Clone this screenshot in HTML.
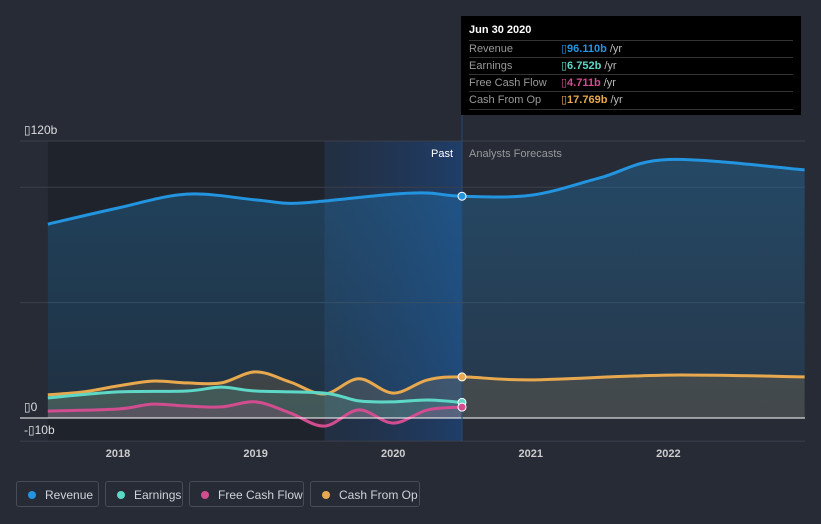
<!DOCTYPE html>
<html><head><meta charset="utf-8"><style>
body{margin:0;background:#262b36;font-family:"Liberation Sans","DejaVu Sans",sans-serif;}
#wrap{position:relative;width:821px;height:524px;overflow:hidden;background:#262b36}
.leg{position:absolute;top:481px;height:26px;border:1px solid #464c58;border-radius:3px;color:#d0d3d8;font-size:12px;line-height:26px;box-sizing:border-box;padding-left:28px}
.leg i{position:absolute;left:11px;top:9px;width:8px;height:8px;border-radius:50%}
#tip{position:absolute;left:461px;top:16px;width:340px;height:99px;background:#000;color:#fff;font-size:11px}
#tip .r{position:absolute;left:8px;width:324px;height:17px;border-top:1px solid #333;line-height:16px;color:#999}
#tip .r b{position:absolute;left:92px;font-weight:bold}
#tip .r span{color:#bbb;font-weight:normal}
</style></head><body>
<div id="wrap">
<svg id="svg" width="821" height="524" style="position:absolute;left:0;top:0"></svg>
<div id="tip">
<div style="position:absolute;left:8px;top:8px;font-weight:bold;font-size:11px">Jun 30 2020</div>
<div class="r" style="top:24px">Revenue<b style="color:#2394df">▯96.110b <span>/yr</span></b></div>
<div class="r" style="top:41px">Earnings<b style="color:#5ed8c6">▯6.752b <span>/yr</span></b></div>
<div class="r" style="top:58px">Free Cash Flow<b style="color:#d14d8f">▯4.711b <span>/yr</span></b></div>
<div class="r" style="top:75px;border-bottom:1px solid #333">Cash From Op<b style="color:#e8a94e">▯17.769b <span>/yr</span></b></div>
</div>
<div class="leg" style="left:16px;width:83px"><i style="background:#2394df"></i>Revenue</div>
<div class="leg" style="left:105px;width:78px"><i style="background:#5ed8c6"></i>Earnings</div>
<div class="leg" style="left:189px;width:115px"><i style="background:#d14d8f"></i>Free Cash Flow</div>
<div class="leg" style="left:310px;width:110px"><i style="background:#e8a94e"></i>Cash From Op</div>
</div>
<script>
const revYears=[2017.49,2018,2018.5,2019,2019.25,2019.5,2020,2020.25,2020.5,2021,2021.5,2022,2022.99];
const revVals=[84,91,97,94.5,93,94,97,97.5,96.1,96.5,104,112,107.5];
const cfoYears=[2017.49,2017.75,2018,2018.25,2018.5,2018.75,2019,2019.25,2019.5,2019.75,2020,2020.25,2020.5,2021,2022,2022.99];
const cfoVals=[10,11.3,13.9,16,15.2,15.2,20,15.6,10.4,17,10.8,16.5,17.8,16.5,18.6,17.8];
const earnYears=[2017.49,2018,2018.5,2018.75,2019,2019.5,2019.75,2020,2020.25,2020.5];
const earnVals=[8.7,11.3,11.7,13.4,11.7,10.8,7.4,7,7.8,6.75];
const fcfYears=[2017.49,2018,2018.25,2018.5,2018.75,2019,2019.25,2019.5,2019.75,2020,2020.25,2020.5];
const fcfVals=[3,3.9,6,5.2,4.8,7,2.2,-3.5,3.5,-2.2,3.5,4.7];
const xTicks=[2018,2019,2020,2021,2022];
const yTicks=[120,0,-10];
const yLabels=["▯120b","▯0","-▯10b"];
const X=y=>118+(y-2018)*137.6, Y=v=>418-v*2.308;
const NS="http://www.w3.org/2000/svg",svg=document.getElementById('svg');
function mk(t,a,name){const e=document.createElementNS(NS,t);for(const k in a)e.setAttribute(k,a[k]);


svg.appendChild(e);return e;}
svg.innerHTML='<defs><linearGradient id="pg" x1="0" x2="1"><stop offset="0" stop-color="#1a3a66" stop-opacity="0.25"/><stop offset="1" stop-color="#1a4a8a" stop-opacity="0.6"/></linearGradient><linearGradient id="rf" x1="0" y1="0" x2="0" y2="1"><stop offset="0" stop-color="#2394df" stop-opacity="0.28"/><stop offset="1" stop-color="#2394df" stop-opacity="0.12"/></linearGradient></defs>';
mk('rect',{x:X(2017.49),y:141,width:X(2019.5)-X(2017.49),height:300,fill:'#1f232c'},'past-shade');
mk('rect',{x:X(2019.5),y:141,width:X(2020.5)-X(2019.5),height:300,fill:'url(#pg)'},'past-highlight');
[120,100,50].forEach(v=>mk('line',{x1:20,x2:805,y1:Y(v),y2:Y(v),stroke:'#3a3f4b'},'gridline'));
mk('line',{x1:20,x2:805,y1:Y(-10),y2:Y(-10),stroke:'#3a3f4b'},'gridline');
function path(xs,vs){let d='';const p=xs.map((x,i)=>[X(x),Y(vs[i])]);
d='M'+p[0][0]+','+p[0][1];
for(let i=0;i<p.length-1;i++){const p0=p[Math.max(0,i-1)],p1=p[i],p2=p[i+1],p3=p[Math.min(p.length-1,i+2)];
const c1=[p1[0]+(p2[0]-p0[0])/6,p1[1]+(p2[1]-p0[1])/6],c2=[p2[0]-(p3[0]-p1[0])/6,p2[1]-(p3[1]-p1[1])/6];
d+=`C${c1[0]},${c1[1]} ${c2[0]},${c2[1]} ${p2[0]},${p2[1]}`;}return d;}
function series(xs,vs,c,fill,name){const d=path(xs,vs);
mk('path',{d:d+`L${X(xs[xs.length-1])},${Y(0)}L${X(xs[0])},${Y(0)}Z`,fill:fill},name+'-area');
mk('path',{d:d,fill:'none',stroke:c,'stroke-width':3},name+'-line');}
series(revYears,revVals,'#2394df','url(#rf)','revenue');
series(cfoYears,cfoVals,'#e8a94e','rgba(232,169,78,0.15)','cash-from-op');
series(earnYears,earnVals,'#5ed8c6','rgba(94,216,198,0.15)','earnings');
series(fcfYears,fcfVals,'#d14d8f','rgba(209,77,143,0.15)','free-cash-flow');
mk('line',{x1:20,x2:805,y1:Y(0),y2:Y(0),stroke:'#fff'},'zero-line');
mk('line',{x1:X(2020.5),x2:X(2020.5),y1:16,y2:441,stroke:'#2a4a70'},'divider');
[[revVals[8],'#2394df'],[cfoVals[12],'#e8a94e'],[earnVals[9],'#5ed8c6'],[fcfVals[11],'#d14d8f']].forEach(a=>mk('circle',{cx:X(2020.5),cy:Y(a[0]),r:4,fill:a[1],stroke:'#fff','stroke-width':1},'marker'));
xTicks.forEach(t=>{const e=mk('text',{x:X(t),y:457,fill:'#ccc','font-size':11,'text-anchor':'middle','font-weight':'bold'},'x-tick-'+t);e.textContent=t;});
yTicks.forEach((t,i)=>{const e=mk('text',{x:24,y:Y(t)-7,fill:'#ddd','font-size':12},'y-tick');e.textContent=yLabels[i];});
let e=mk('text',{x:453,y:157,fill:'#fff','font-size':11,'text-anchor':'end'},'past-label');e.textContent='Past';
e=mk('text',{x:469,y:157,fill:'#999','font-size':11},'forecast-label');e.textContent='Analysts Forecasts';
</script>
</body></html>
